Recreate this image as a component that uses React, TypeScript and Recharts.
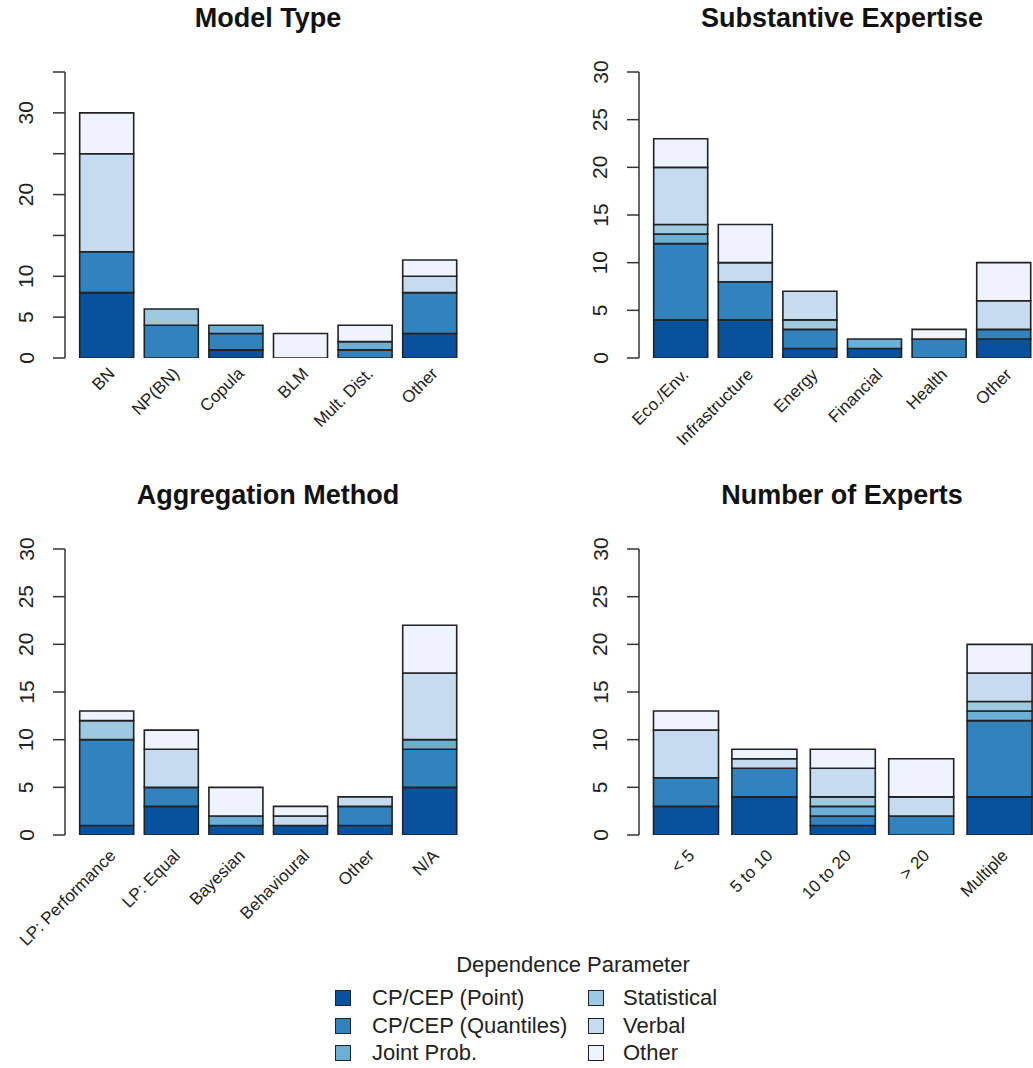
import { BarChart, Bar, XAxis, YAxis } from "recharts";

const seriesKeys = ["point", "quantiles", "joint", "statistical", "verbal", "other"];
const seriesNames = ["CP/CEP (Point)", "CP/CEP (Quantiles)", "Joint Prob.", "Statistical", "Verbal", "Other"];
const seriesColors = ["#08519c", "#3182bd", "#6baed6", "#9ecae1", "#c6dbef", "#eff3ff"];

const modelTypeCategories = ["BN", "NP(BN)", "Copula", "BLM", "Mult. Dist.", "Other"];
const modelTypeCounts: Record<string, number[]> = {
  point: [8, 0, 1, 0, 0, 3],
  quantiles: [5, 4, 2, 0, 1, 5],
  joint: [0, 0, 1, 0, 1, 0],
  statistical: [0, 2, 0, 0, 0, 0],
  verbal: [12, 0, 0, 0, 0, 2],
  other: [5, 0, 0, 3, 2, 2],
};

const expertiseCategories = ["Eco./Env.", "Infrastructure", "Energy", "Financial", "Health", "Other"];
const expertiseCounts: Record<string, number[]> = {
  point: [4, 4, 1, 1, 0, 2],
  quantiles: [8, 4, 2, 0, 2, 1],
  joint: [1, 0, 0, 1, 0, 0],
  statistical: [1, 0, 1, 0, 0, 0],
  verbal: [6, 2, 3, 0, 0, 3],
  other: [3, 4, 0, 0, 1, 4],
};

const aggregationCategories = ["LP: Performance", "LP: Equal", "Bayesian", "Behavioural", "Other", "N/A"];
const aggregationCounts: Record<string, number[]> = {
  point: [1, 3, 1, 1, 1, 5],
  quantiles: [9, 2, 0, 0, 2, 4],
  joint: [0, 0, 1, 0, 0, 1],
  statistical: [2, 0, 0, 0, 0, 0],
  verbal: [0, 4, 0, 1, 1, 7],
  other: [1, 2, 3, 1, 0, 5],
};

const expertsCategories = ["< 5", "5 to 10", "10 to 20", "> 20", "Multiple"];
const expertsCounts: Record<string, number[]> = {
  point: [3, 4, 1, 0, 4],
  quantiles: [3, 3, 1, 2, 8],
  joint: [0, 0, 1, 0, 1],
  statistical: [0, 0, 1, 0, 1],
  verbal: [5, 1, 3, 2, 3],
  other: [2, 1, 2, 4, 3],
};

const ticks35 = [0, 5, 10, 15, 20, 25, 30, 35];
const labels35 = [0, 5, 10, 20, 30];
const ticks30 = [0, 5, 10, 15, 20, 25, 30];

const FONT = '"Liberation Sans", Arial, sans-serif';
const INK = "#222";

function buildRows(categories: string[], counts: Record<string, number[]>) {
  return categories.map((name, i) => {
    const row: Record<string, string | number> = { name };
    seriesKeys.forEach((k) => (row[k] = counts[k][i]));
    return row;
  });
}

interface PanelProps {
  title: string;
  categories: string[];
  counts: Record<string, number[]>;
  yMax: number;
  yTicks: number[];
  yLabels: number[];
  left: number;
  top: number;
  barSize: number;
  pad: number;
  labelDx: number;
  labelDy: number;
}

function Panel(p: PanelProps) {
  const data = buildRows(p.categories, p.counts);
  const YTick = (props: any) => {
    const v = props.payload.value;
    if (!p.yLabels.includes(v)) return null;
    return (
      <text
        x={26}
        y={props.y}
        transform={`rotate(-90, 26, ${props.y})`}
        textAnchor="middle"
        dominantBaseline="central"
        fontSize={21}
        fontFamily={FONT}
        fill={INK}
      >
        {v}
      </text>
    );
  };
  const XTick = (props: any) => (
    <text
      transform={`translate(${props.x + p.labelDx}, ${props.y + p.labelDy}) rotate(-45)`}
      textAnchor="end"
      dy="0.72em"
      fontSize={17}
      fontFamily={FONT}
      fill={INK}
    >
      {props.payload.value}
    </text>
  );
  return (
    <div style={{ position: "absolute", left: p.left, top: p.top }}>
      <div
        style={{
          position: "absolute",
          left: 268,
          top: 18,
          transform: "translate(-50%, -50%)",
          whiteSpace: "nowrap",
          fontFamily: FONT,
          fontWeight: "bold",
          fontSize: 27,
          color: "#111",
        }}
      >
        {p.title}
      </div>
      <BarChart
        width={516}
        height={470}
        data={data}
        margin={{ top: 72, right: 44, bottom: 12, left: 5 }}
      >
        <XAxis
          dataKey="name"
          axisLine={false}
          tickLine={false}
          tickSize={0}
          tickMargin={0}
          height={100}
          interval={0}
          padding={{ left: p.pad, right: p.pad }}
          tick={<XTick />}
        />
        <YAxis
          width={60}
          domain={[0, p.yMax]}
          ticks={p.yTicks}
          interval={0}
          allowDataOverflow
          tickSize={12}
          axisLine={{ stroke: "#333", strokeWidth: 1.5 }}
          tickLine={{ stroke: "#333", strokeWidth: 1.5 }}
          tick={<YTick />}
        />
        {seriesKeys.map((k, i) => (
          <Bar
            key={k}
            dataKey={k}
            name={seriesNames[i]}
            stackId="a"
            fill={seriesColors[i]}
            stroke={INK}
            strokeWidth={1.6}
            barSize={p.barSize}
            isAnimationActive={false}
          />
        ))}
      </BarChart>
    </div>
  );
}

function Legend() {
  const rowY = [998, 1026, 1053];
  const colSquare = [335, 588];
  const colText = [372, 623];
  return (
    <div style={{ position: "absolute", left: 0, top: 0, fontFamily: FONT, color: INK }}>
      <div
        style={{
          position: "absolute",
          left: 573,
          top: 965,
          transform: "translate(-50%, -50%)",
          whiteSpace: "nowrap",
          fontSize: 22,
        }}
      >
        Dependence Parameter
      </div>
      {seriesNames.map((name, i) => {
        const col = Math.floor(i / 3);
        const row = i % 3;
        return (
          <div key={name}>
            <div
              style={{
                position: "absolute",
                left: colSquare[col],
                top: rowY[row] - 8,
                width: 14,
                height: 14,
                background: seriesColors[i],
                border: `1.5px solid ${INK}`,
              }}
            />
            <div
              style={{
                position: "absolute",
                left: colText[col],
                top: rowY[row],
                transform: "translateY(-50%)",
                whiteSpace: "nowrap",
                fontSize: 22,
              }}
            >
              {name}
            </div>
          </div>
        );
      })}
    </div>
  );
}

export default function App() {
  return (
    <div
      style={{
        position: "absolute",
        left: 0,
        top: 0,
        width: 1033,
        height: 1068,
        overflow: "hidden",
        background: "#fff",
      }}
    >
      <Panel
        title="Model Type"
        categories={modelTypeCategories}
        counts={modelTypeCounts}
        yMax={35}
        yTicks={ticks35}
        yLabels={labels35}
        left={0}
        top={0}
        barSize={54}
        pad={9.7}
        labelDx={0}
        labelDy={8}
      />
      <Panel
        title="Substantive Expertise"
        categories={expertiseCategories}
        counts={expertiseCounts}
        yMax={30}
        yTicks={ticks30}
        yLabels={ticks30}
        left={574}
        top={0}
        barSize={54}
        pad={9.7}
        labelDx={0}
        labelDy={9}
      />
      <Panel
        title="Aggregation Method"
        categories={aggregationCategories}
        counts={aggregationCounts}
        yMax={30}
        yTicks={ticks30}
        yLabels={ticks30}
        left={0}
        top={477}
        barSize={54}
        pad={9.7}
        labelDx={1}
        labelDy={13}
      />
      <Panel
        title="Number of Experts"
        categories={expertsCategories}
        counts={expertsCounts}
        yMax={30}
        yTicks={ticks30}
        yLabels={ticks30}
        left={574}
        top={477}
        barSize={65}
        pad={7.5}
        labelDx={1}
        labelDy={13}
      />
      <Legend />
    </div>
  );
}
